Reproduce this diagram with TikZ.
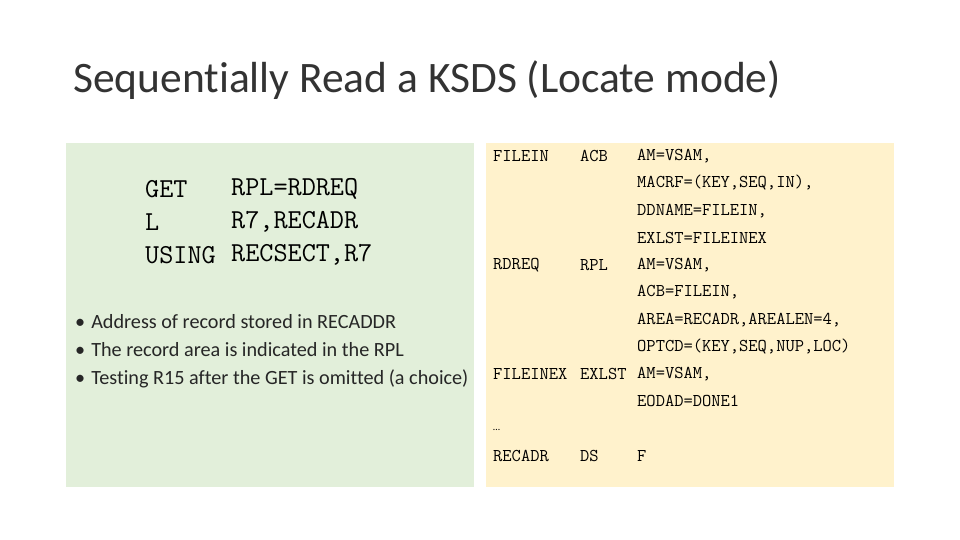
\documentclass[tikz,border=0pt]{standalone}
\usepackage{fontspec}
\setmainfont{Carlito}[Ligatures={NoCommon,NoContextual}]
\newcommand\codefont{\ttfamily}
\begin{document}
\begin{tikzpicture}[x=1pt,y=-1pt,
  big/.style={anchor=west,inner sep=0,font=\codefont\fontsize{27.4}{27}\selectfont},
  sm/.style={anchor=west,inner sep=0,font=\codefont\fontsize{18}{18}\selectfont},
  bul/.style={anchor=west,inner sep=0,font=\fontsize{20.2}{20}\selectfont,text=black!85}]
\useasboundingbox (0,0) rectangle (960,540);
\fill[white] (0,0) rectangle (960,540);
\node[anchor=west,inner sep=0,font=\fontsize{43.5}{44}\selectfont,text=black!80] (title) at (73,80) {Sequentially Read a KSDS (Locate mode)};
\fill[fill={rgb,255:red,226;green,239;blue,218}] (66,143) rectangle (474,487);
\fill[fill={rgb,255:red,255;green,242;blue,204}] (486,143) rectangle (894,487);
\node[big] (g1) at (145,189) {GET};
\node[big] (g2) at (231,189) {RPL=RDREQ};
\node[big] (l1) at (145,222) {L};
\node[big] (l2) at (231,222) {R7,RECADR};
\node[big] (u1) at (145,255) {USING};
\node[big] (u2) at (231,255) {RECSECT,R7};
\node[bul] (b1) at (75,322) {\textbullet\hspace{6pt}Address of record stored in RECADDR};
\node[bul] (b2) at (75,350) {\textbullet\hspace{6pt}The record area is indicated in the RPL};
\node[bul] (b3) at (75,379) {\textbullet\hspace{6pt}Testing R15 after the GET is omitted (a choice)};
\node[sm] (r1a) at (493,156) {FILEIN};
\node[sm] (r1b) at (580,156) {ACB};
\node[sm] (r1c) at (637,156) {AM=VSAM,};
\node[sm] (r2) at (637,183) {MACRF=(KEY,SEQ,IN),};
\node[sm] (r3) at (637,211) {DDNAME=FILEIN,};
\node[sm] (r4) at (637,238) {EXLST=FILEINEX};
\node[sm] (r5a) at (493,265) {RDREQ};
\node[sm] (r5b) at (580,265) {RPL};
\node[sm] (r5c) at (637,265) {AM=VSAM,};
\node[sm] (r6) at (637,292) {ACB=FILEIN,};
\node[sm] (r7) at (637,320) {AREA=RECADR,AREALEN=4,};
\node[sm] (r8) at (637,347) {OPTCD=(KEY,SEQ,NUP,LOC)};
\node[sm] (r9a) at (493,374) {FILEINEX};
\node[sm] (r9b) at (580,374) {EXLST};
\node[sm] (r9c) at (637,374) {AM=VSAM,};
\node[sm] (r10) at (637,401) {EODAD=DONE1};
\node[anchor=west,inner sep=0,font=\fontsize{10}{10}\selectfont] (dots) at (493,430) {\dots};
\node[sm] (r11a) at (493,456) {RECADR};
\node[sm] (r11b) at (580,456) {DS};
\node[sm] (r11c) at (637,456) {F};
\end{tikzpicture}
\end{document}
